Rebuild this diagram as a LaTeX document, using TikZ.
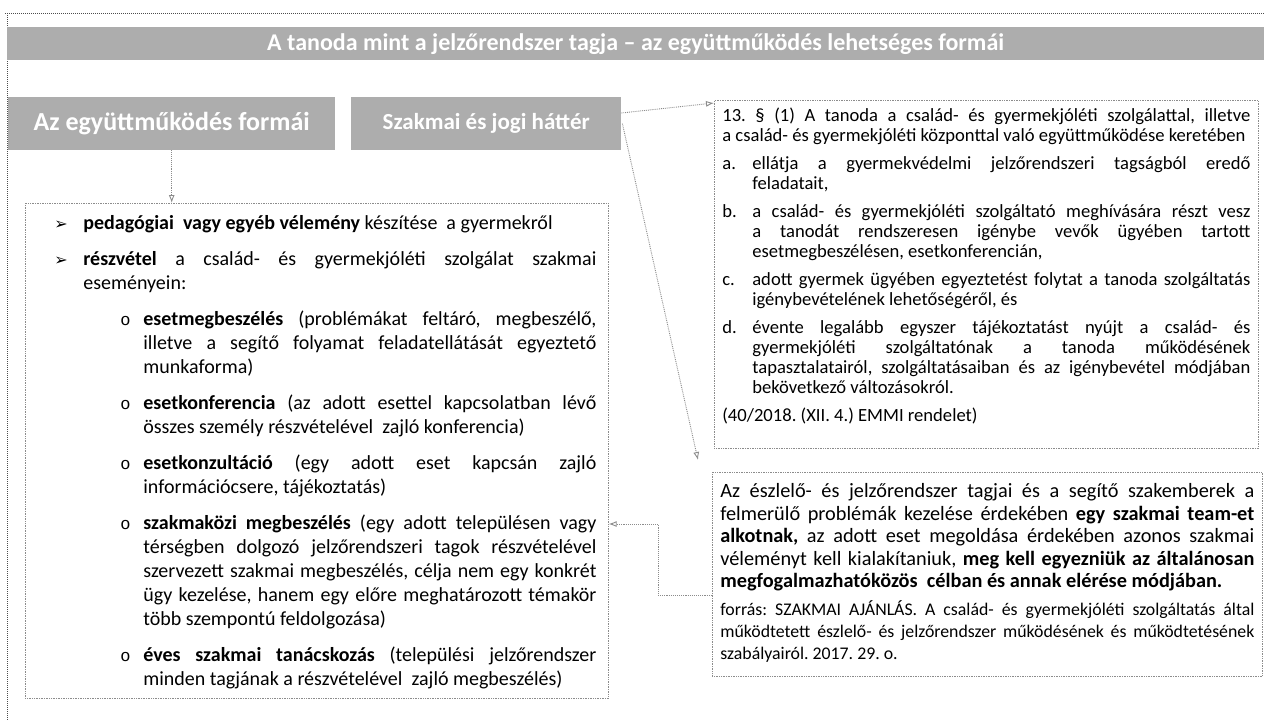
\documentclass[tikz,border=0pt]{standalone}
\usepackage{fontspec}
\setmainfont{Carlito}
\newfontfamily\symfont{DejaVu Sans}
\newfontfamily\ofont{Liberation Mono}
\usetikzlibrary{arrows.meta,calc}

\newcommand\myMainBul{\makebox[58pt][l]{\hspace{29pt}{\symfont\fontsize{16}{16}\selectfont ➢}}}
\newcommand\mySubBul{\makebox[118pt][l]{\hspace{95pt}{\ofont\fontsize{17}{17}\selectfont o}}}
\newcommand\myMain{\par\noindent\hangindent=58pt\hangafter=1\myMainBul}
\newcommand\mySub{\par\noindent\hangindent=118pt\hangafter=1\mySubBul}
\newcommand\myLaw[1]{\par\noindent\hangindent=30pt\hangafter=1\makebox[30pt][l]{#1}}
\newcommand\mySetup{\frenchspacing\parindent=0pt\tolerance=10000\hbadness=10000\vbadness=10000\hyphenpenalty=10000\exhyphenpenalty=10000\emergencystretch=0pt}

\tikzset{
  boxx/.style={draw=black!45, densely dotted, line width=0.7pt, inner sep=0pt, anchor=north west},
  hdr/.style={fill=black!32, text=white, font=\bfseries\fontsize{26}{30}\selectfont, inner sep=0pt, anchor=north west},
  conn/.style={draw=black!45, densely dotted, line width=0.9pt, -{Latex[open,length=8pt,width=6pt]}},
  frame/.style={draw=black!70, densely dotted, line width=1pt},
}

\begin{document}
\begin{tikzpicture}[x=1pt,y=-1pt]
\useasboundingbox[fill=white] (0,0) rectangle (1264,721);

% outer frame
\coordinate (fa) at (5,13);
\coordinate (fb) at (1264,13);
\coordinate (fc) at (7,13);
\coordinate (fd) at (7,721);
\draw[frame] (fa) -- (fb);
\draw[frame] (fc) -- (fd);

% title banner and headers
\node[hdr, minimum width=1257pt, minimum height=33pt, font=\bfseries\fontsize{24}{26}\selectfont] (title) at (7,27)
  {A tanoda mint a jelzőrendszer tagja – az együttműködés lehetséges formái};
\node[hdr, minimum width=327pt, minimum height=53pt] (hdr1) at (8,97) {Az együttműködés formái};
\node[hdr, minimum width=270pt, minimum height=53pt, font=\bfseries\fontsize{23}{27}\selectfont] (hdr2) at (351,97) {Szakmai és jogi háttér};

% left content box
\node[boxx] (left) at (25,203) {\parbox[c][495pt][t]{583pt}{\mySetup
  \fontsize{20}{24}\selectfont\parskip=12pt\rightskip=12pt
  \vspace*{0pt}
  \myMain\textbf{pedagógiai\ \ vagy egyéb vélemény} készítése\ \ a gyermekről
  \myMain\textbf{részvétel} a család- és gyermekjóléti szolgálat szakmai\linebreak eseményein:
  \mySub\textbf{esetmegbeszélés} (problémákat feltáró, megbeszélő,\linebreak illetve a segítő folyamat feladatellátását egyeztető\linebreak munkaforma)
  \mySub\textbf{esetkonferencia} (az adott esettel kapcsolatban lévő\linebreak összes személy részvételével\ \ zajló konferencia)
  \mySub\textbf{esetkonzultáció} (egy adott eset kapcsán zajló\linebreak információcsere, tájékoztatás)
  \mySub\textbf{szakmaközi megbeszélés} (egy adott településen vagy\linebreak térségben dolgozó jelzőrendszeri tagok részvételével\linebreak szervezett szakmai megbeszélés, célja nem egy konkrét\linebreak ügy kezelése, hanem egy előre meghatározott témakör\linebreak több szempontú feldolgozása)
  \mySub\textbf{éves szakmai tanácskozás} (települési jelzőrendszer\linebreak minden tagjának a részvételével\ \ zajló megbeszélés)\par}};

% law box
\node[boxx] (law) at (714,100) {\parbox[c][348pt][t]{544pt}{\mySetup
  \fontsize{18.6}{20}\selectfont\parskip=8pt\leftskip=8pt\rightskip=8pt
  \vspace*{0pt}
  \noindent 13. § (1) A tanoda a család- és gyermekjóléti szolgálattal, illetve\linebreak a család- és gyermekjóléti központtal való együttműködése keretében
  \myLaw{a.}ellátja a gyermekvédelmi jelzőrendszeri tagságból eredő\linebreak feladatait,
  \myLaw{b.}a család- és gyermekjóléti szolgáltató meghívására részt vesz\linebreak a tanodát rendszeresen igénybe vevők ügyében tartott\linebreak esetmegbeszélésen, esetkonferencián,
  \myLaw{c.}adott gyermek ügyében egyeztetést folytat a tanoda szolgáltatás\linebreak igénybevételének lehetőségéről, és
  \myLaw{d.}évente legalább egyszer tájékoztatást nyújt a család- és\linebreak gyermekjóléti szolgáltatónak a tanoda működésének\linebreak tapasztalatairól, szolgáltatásaiban és az igénybevétel módjában\linebreak bekövetkező változásokról.
  \par\noindent (40/2018. (XII. 4.) EMMI rendelet)\par}};

% quote box
\node[boxx] (quote) at (712,472) {\parbox[c][204pt][t]{550pt}{\mySetup
  \fontsize{20.3}{22.5}\selectfont\parskip=5.5pt\leftskip=8pt\rightskip=8pt
  \vspace*{6pt}
  \noindent Az észlelő- és jelzőrendszer tagjai és a segítő szakemberek a\linebreak felmerülő problémák kezelése érdekében \textbf{egy szakmai team-et}\linebreak \textbf{alkotnak,} az adott eset megoldása érdekében azonos szakmai\linebreak véleményt kell kialakítaniuk, \textbf{meg kell egyezniük az általánosan}\linebreak \textbf{megfogalmazhatóközös\ \ célban és annak elérése módjában.}\par
  {\fontsize{17.8}{22}\selectfont\noindent forrás: SZAKMAI AJÁNLÁS. A család- és gyermekjóléti szolgáltatás által\linebreak működtetett észlelő- és jelzőrendszer működésének és működtetésének\linebreak szabályairól. 2017. 29. o.\par}}};

% connectors
\coordinate (s2) at ($(hdr2.north east)+(0,16)$);
\coordinate (e2) at ($(law.north west)+(0,3)$);
\coordinate (s3) at ($(hdr2.east)+(1,0)$);
\coordinate (e3) at ($(quote.north west)+(-14,-12)$);
\coordinate (ya) at (0,595);
\coordinate (yb) at (0,524);
\coordinate (xm) at (658,0);
\coordinate (q1) at (quote.west |- ya);
\coordinate (k1) at (xm |- ya);
\coordinate (k2) at (xm |- yb);
\coordinate (l1) at (left.east |- yb);

\draw[conn] (hdr1.south) -- (hdr1.south |- left.north);
\draw[conn] (s2) -- (e2);
\draw[conn] (s3) -- (e3);
\draw[conn] (q1) -- (k1) -- (k2) -- (l1);
\end{tikzpicture}
\end{document}
